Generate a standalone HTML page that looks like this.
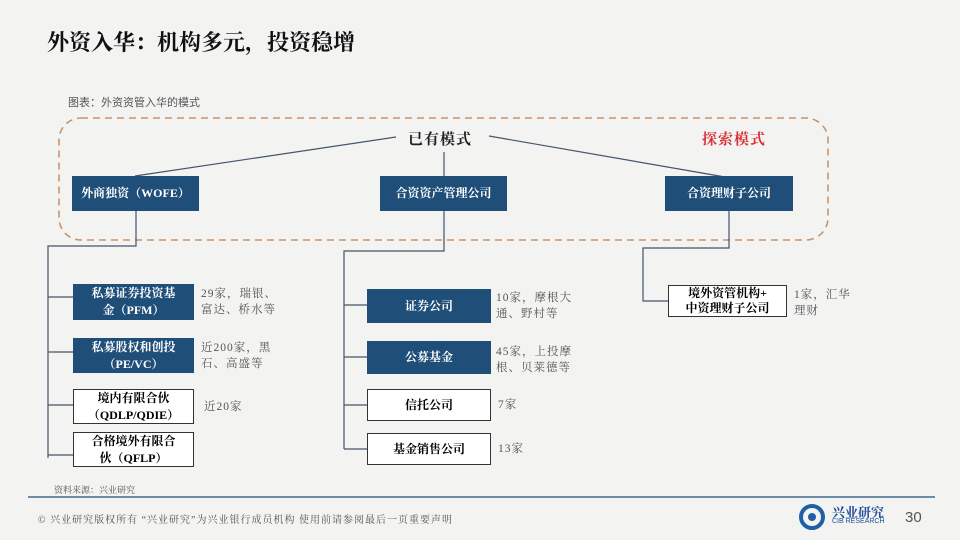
<!DOCTYPE html>
<html><head><meta charset="utf-8"><style>
body{margin:0;}
#p{position:relative;width:960px;height:540px;background:#f3f3f2;overflow:hidden;font-family:"Liberation Serif","Noto Serif CJK SC",serif;}
.a{position:absolute;}
.bx{position:absolute;display:flex;align-items:center;justify-content:center;text-align:center;font-weight:bold;font-size:12px;line-height:17px;box-sizing:border-box;}
.d{background:#1f4e79;color:#fff;}
.w{background:#fff;color:#000;border:1px solid #333;}
.t{position:absolute;font-size:11.5px;line-height:16px;color:#555;letter-spacing:1px;}
</style></head><body><div id="p">
<div class="a" style="left:47px;top:26px;font-size:22px;font-weight:bold;color:#111;">外资入华：机构多元，投资稳增</div>
<div class="a" style="left:68px;top:94px;font-size:11px;color:#555;font-family:'Liberation Sans','Noto Sans CJK SC',sans-serif;">图表：外资资管入华的模式</div>
<svg class="a" style="left:0;top:0" width="960" height="540">
<rect x="59" y="118" width="769" height="122" rx="22" fill="none" stroke="#c9956a" stroke-width="1.6" stroke-dasharray="7,5"/>
<g stroke="#44546a" stroke-width="1.2" fill="none">
<line x1="396" y1="137" x2="135" y2="176"/>
<line x1="489" y1="136" x2="725" y2="177"/>
<line x1="444" y1="152" x2="444" y2="176"/>
<polyline points="136,211 136,246 48,246 48,458"/>
<line x1="48" y1="297" x2="73" y2="297"/>
<line x1="48" y1="352" x2="73" y2="352"/>
<line x1="48" y1="405" x2="73" y2="405"/>
<line x1="48" y1="455" x2="73" y2="455"/>
<polyline points="444,211 444,251 344,251 344,449"/>
<line x1="344" y1="305" x2="367" y2="305"/>
<line x1="344" y1="357" x2="367" y2="357"/>
<line x1="344" y1="405" x2="367" y2="405"/>
<line x1="344" y1="449" x2="367" y2="449"/>
<polyline points="729,211 729,248 643,248 643,301 668,301"/>
<line x1="28" y1="497" x2="935" y2="497" stroke="#1f4e79"/>
</g>
</svg>
<div class="a" style="left:408px;top:128px;font-size:15px;font-weight:bold;color:#222;letter-spacing:1px;">已有模式</div>
<div class="a" style="left:702px;top:128px;font-size:15px;font-weight:bold;color:#d9303a;letter-spacing:1px;">探索模式</div>
<div class="bx d" style="left:72px;top:176px;width:127px;height:35px;">外商独资（WOFE）</div>
<div class="bx d" style="left:380px;top:176px;width:127px;height:35px;">合资资产管理公司</div>
<div class="bx d" style="left:665px;top:176px;width:128px;height:35px;">合资理财子公司</div>
<div class="bx d" style="left:73px;top:284px;width:121px;height:36px;">私募证券投资基<br>金（PFM）</div>
<div class="bx d" style="left:73px;top:338px;width:121px;height:35px;">私募股权和创投<br>（PE/VC）</div>
<div class="bx w" style="left:73px;top:389px;width:121px;height:35px;">境内有限合伙<br>（QDLP/QDIE）</div>
<div class="bx w" style="left:73px;top:432px;width:121px;height:35px;">合格境外有限合<br>伙（QFLP）</div>
<div class="t" style="left:201px;top:286px;">29家，瑞银、<br>富达、桥水等</div>
<div class="t" style="left:201px;top:340px;">近200家，黑<br>石、高盛等</div>
<div class="t" style="left:204px;top:399px;">近20家</div>
<div class="bx d" style="left:367px;top:289px;width:124px;height:34px;">证券公司</div>
<div class="bx d" style="left:367px;top:341px;width:124px;height:33px;">公募基金</div>
<div class="bx w" style="left:367px;top:389px;width:124px;height:32px;">信托公司</div>
<div class="bx w" style="left:367px;top:433px;width:124px;height:32px;">基金销售公司</div>
<div class="t" style="left:496px;top:290px;">10家，摩根大<br>通、野村等</div>
<div class="t" style="left:496px;top:344px;">45家，上投摩<br>根、贝莱德等</div>
<div class="t" style="left:498px;top:397px;">7家</div>
<div class="t" style="left:498px;top:441px;">13家</div>
<div class="bx w" style="left:668px;top:285px;width:119px;height:32px;line-height:15px;">境外资管机构+<br>中资理财子公司</div>
<div class="t" style="left:794px;top:287px;">1家，汇华<br>理财</div>
<div class="a" style="left:54px;top:483px;font-size:9px;color:#555;">资料来源：兴业研究</div>
<div class="a" style="left:38px;top:511px;font-size:10px;color:#555;letter-spacing:1px;">© 兴业研究版权所有 “兴业研究”为兴业银行成员机构 使用前请参阅最后一页重要声明</div>
<svg class="a" style="left:798px;top:504px" width="30" height="26"><circle cx="14" cy="13" r="11" fill="none" stroke="#1f5ea8" stroke-width="4"/><circle cx="14" cy="13" r="4" fill="#1f5ea8"/></svg>
<div class="a" style="left:832px;top:502px;font-size:13px;font-weight:bold;color:#1f4e9a;">兴业研究</div>
<div class="a" style="left:832px;top:518px;font-size:7px;color:#1f4e9a;font-family:'Liberation Sans',sans-serif;">CIB RESEARCH</div>
<div class="a" style="left:905px;top:509px;font-size:15px;color:#555;font-family:'Liberation Sans',sans-serif;">30</div>
</div></body></html>
